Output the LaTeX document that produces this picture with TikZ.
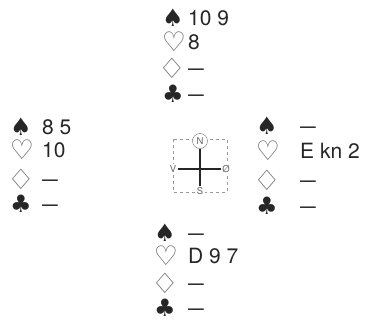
\documentclass[tikz,border=0pt]{standalone}
\usepackage{fontspec}
\setmainfont{TeX Gyre Heros}
\newfontfamily\suitfont{DejaVu Sans}
\newcommand{\widediamond}{\scalebox{1.12}[1]{♢}}
\newcommand{\longdash}{\scalebox{1.35}[1]{–}}
\begin{document}
\begin{tikzpicture}[x=1pt,y=-1pt,
  suitb/.style={font=\suitfont\fontsize{24}{24}\selectfont, text=black!85, inner sep=0pt, anchor=center},
  suitw/.style={font=\suitfont\fontsize{27}{27}\selectfont, text=black!60, inner sep=0pt, anchor=center},
  suitd/.style={font=\suitfont\fontsize{28}{28}\selectfont, text=black!60, inner sep=0pt, anchor=center},
  cards/.style={font=\fontsize{21}{21}\selectfont, text=black!85, inner sep=0pt, anchor=base west},
  lbl/.style={font=\fontsize{9.5}{9.5}\selectfont, text=black!60, fill=white, inner sep=1.5pt},
  frame/.style={draw=black!40, dashed, line width=0.5pt},
  axis/.style={draw=black!85, line width=1.1pt}]
\useasboundingbox (0,0) rectangle (368,321);
% North
\node[suitb] (ns) at (173,18) {♠};
\node[suitw] (nh) at (174,42) {♡};
\node[suitd] (nd) at (172,68) {\widediamond};
\node[suitb] (nc) at (173,94) {♣};
\node[cards] (nst) at (188,25.4) {10 9};
\node[cards] (nht) at (188,49.4) {8};
\node[cards] (ndt) at (188,75.4) {\longdash};
\node[cards] (nct) at (188,101.4) {\longdash};
% West
\node[suitb] (ws) at (21,127) {♠};
\node[suitw] (wh) at (22,150) {♡};
\node[suitd] (wd) at (21,179) {\widediamond};
\node[suitb] (wc) at (21,204) {♣};
\node[cards] (wst) at (42,134.4) {8 5};
\node[cards] (wht) at (42,157.4) {10};
\node[cards] (wdt) at (42,186.4) {\longdash};
\node[cards] (wct) at (42,211.4) {\longdash};
% East
\node[suitb] (es) at (267,126) {♠};
\node[suitw] (eh) at (268,151) {♡};
\node[suitd] (ed) at (267,180) {\widediamond};
\node[suitb] (ec) at (267,206) {♣};
\node[cards] (est) at (300,133.4) {\longdash};
\node[cards] (eht) at (300,158.4) {E kn 2};
\node[cards] (edt) at (300,187.4) {\longdash};
\node[cards] (ect) at (300,213.4) {\longdash};
% South
\node[suitb] (ss) at (165,233) {♠};
\node[suitw] (sh) at (166,256) {♡};
\node[suitd] (sd) at (165,283) {\widediamond};
\node[suitb] (sc) at (165,308) {♣};
\node[cards] (sst) at (188,240.4) {\longdash};
\node[cards] (sht) at (188,263.4) {D 9 7};
\node[cards] (sdt) at (188,290.4) {\longdash};
\node[cards] (sct) at (188,315.4) {\longdash};
% Compass
\draw[frame] (173,139) rectangle (227,192);
\node[lbl] (cv) at (173,169) {V};
\node[lbl] (co) at (226,169) {Ø};
\node[lbl] (cs) at (200,191) {S};
\node[lbl, draw=black!55, circle, minimum size=15pt, inner sep=0pt] (cn) at (200,141) {N};
\draw[axis] (cv) -- (co);
\draw[axis] (cn) -- (cs);
\end{tikzpicture}
\end{document}
